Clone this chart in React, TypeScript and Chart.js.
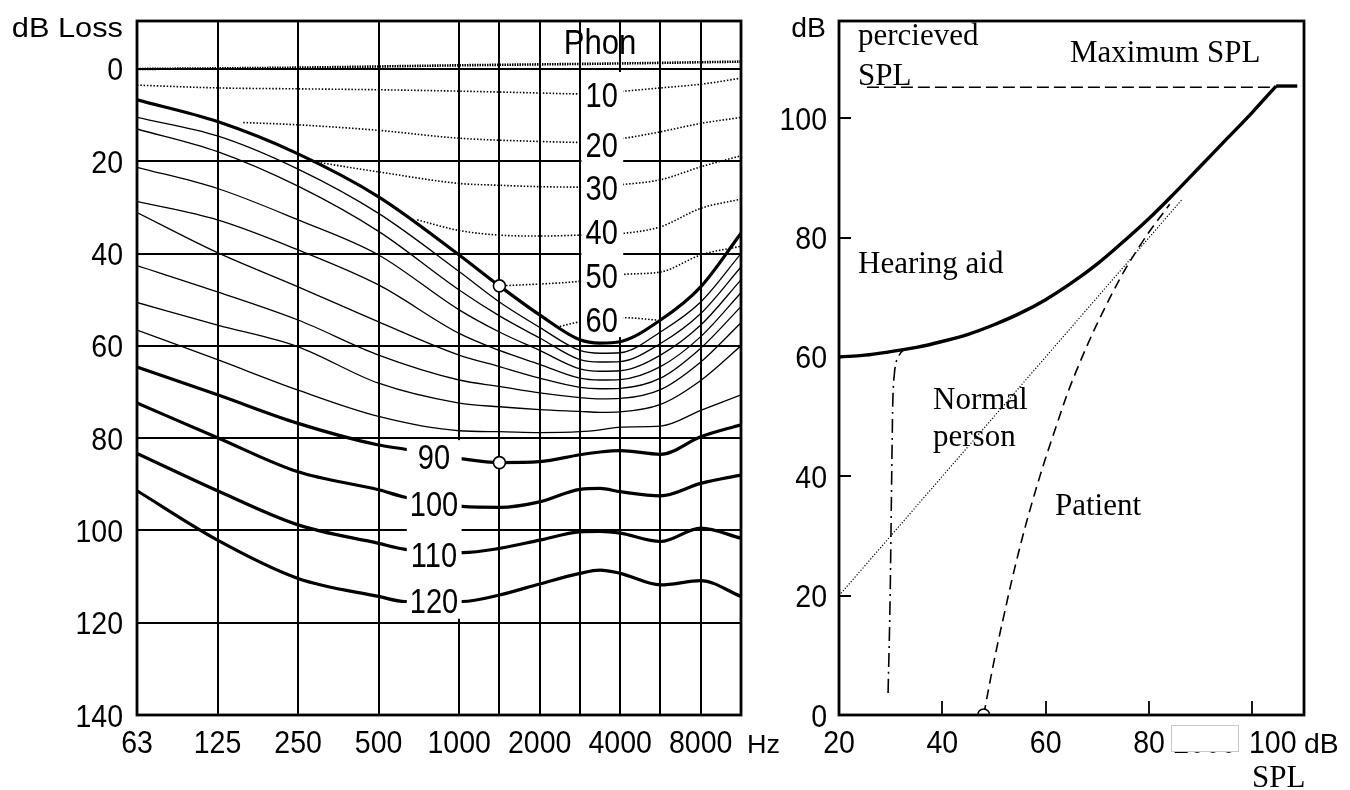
import React, { useEffect, useRef } from "react";
import { Chart, registerables } from "chart.js";
Chart.register(...registerables);

// ---------------- Left chart (equal loudness, dB loss vs frequency) ----------------
const FREQ_LABELS = ["63", "125", "250", "500", "1000", "2000", "4000", "8000"];
const FREQ_LABEL_POS = [0, 1, 2, 3, 4, 5, 6, 7]; // octaves above 63 Hz
const GRID_X = [1, 2, 3, 4, 4.5, 5, 5.5, 6, 6.5, 7];
const LOSS_TICKS = [0, 20, 40, 60, 80, 100, 120, 140];
const GRID_Y = [0, 20, 40, 60, 80, 100, 120];

const UPPER_X = [0, 1, 2, 3, 4, 4.5, 5, 5.5, 5.75, 6, 6.5, 7, 7.5];
const CURVE_60 = [6.7, 11.4, 18.4, 27.7, 40.3, 47.0, 53.3, 58.7, 59.4, 59.1, 54.4, 47.2, 35.6];
const THIN_1 = [10.5, 14.5, 21.7, 31.3, 43.9, 50.5, 56.0, 61.0, 61.6, 61.5, 57.0, 50.5, 40.0];
const THIN_2 = [13.0, 17.9, 25.4, 35.2, 47.9, 53.5, 58.3, 63.0, 63.5, 63.4, 59.5, 53.0, 42.9];
const THIN_3 = [21.3, 25.9, 32.7, 40.3, 52.2, 57.0, 61.0, 65.0, 65.5, 65.4, 62.0, 55.5, 45.7];
const THIN_4 = [28.7, 32.7, 39.2, 46.8, 57.3, 61.0, 64.0, 67.0, 67.4, 67.3, 64.5, 58.0, 48.5];
const THIN_5 = [31.1, 39.8, 47.2, 54.8, 62.0, 64.5, 67.0, 69.0, 69.3, 69.2, 67.0, 60.5, 51.5];
const THIN_6 = [42.6, 48.3, 54.4, 62.0, 67.4, 68.8, 70.2, 71.2, 71.5, 71.4, 69.5, 63.5, 55.0];
const THIN_7 = [50.6, 55.5, 60.2, 68.1, 72.4, 73.2, 73.8, 74.2, 74.4, 74.3, 72.7, 67.5, 60.0];
const THIN_8 = [56.6, 63.0, 69.6, 75.3, 78.4, 78.6, 78.8, 78.6, 78.2, 77.6, 77.4, 74.0, 70.6];

const LOWER_X = [0, 1, 2, 3, 3.33, 4.04, 4.5, 5, 5.5, 5.75, 6, 6.5, 7, 7.5];
const CURVE_90 = [64.6, 70.6, 76.8, 81.5, 82.4, 84.5, 85.3, 85.1, 83.6, 83.0, 82.7, 83.5, 79.7, 77.1];
const CURVE_100 = [72.4, 79.9, 87.3, 91.2, 92.8, 94.8, 95.0, 93.8, 91.1, 90.9, 91.6, 92.5, 89.8, 88.0];
const CURVE_110 = [83.3, 91.4, 98.8, 102.8, 104.1, 104.8, 103.9, 102.1, 100.3, 100.2, 100.6, 102.4, 99.5, 101.7];
const CURVE_120 = [91.4, 102.1, 110.4, 114.3, 115.4, 115.4, 114.0, 111.6, 109.3, 108.6, 109.3, 111.8, 110.9, 114.3];

const PHON0_X = [0, 2, 4, 6, 7.5];
const PHON0_Y = [0, -0.3, -0.8, -1.2, -1.6];
const PHON10_X = [0, 1, 2, 3, 4, 5, 5.5, 6.05, 6.5, 7, 7.5];
const PHON10_Y = [3.5, 4.1, 4.3, 4.5, 4.8, 5.2, 5.4, 4.8, 4.1, 3.3, 2.0];
const PHON20_X = [1.32, 2, 3, 4, 5, 5.5, 6.05, 6.5, 7, 7.5];
const PHON20_Y = [11.6, 12.1, 13.3, 15.0, 15.7, 15.9, 15.0, 13.6, 11.8, 10.5];
const PHON30_X = [2.2, 3, 4, 4.5, 5, 5.5, 6.05, 6.5, 7, 7.5];
const PHON30_Y = [20.1, 22.3, 24.8, 25.2, 25.5, 25.6, 25.0, 24.0, 21.2, 18.8];
const PHON40_X = [3.48, 4, 4.5, 5, 5.5, 6.05, 6.5, 7, 7.5];
const PHON40_Y = [32.7, 35.0, 36.0, 36.2, 36.0, 35.6, 34.2, 30.2, 28.2];
const PHON50_X = [4.5, 5, 5.5, 6.05, 6.5, 7, 7.5];
const PHON50_Y = [47.0, 46.6, 46.0, 44.5, 44.0, 40.3, 38.4];
const PHON60_X = [5.25, 5.5, 6.05, 6.45];
const PHON60_Y = [55.8, 54.8, 53.9, 54.4];

const PHON_LABELS = ["10", "20", "30", "40", "50", "60"];
const LOUD_LABELS = ["90", "100", "110", "120"];

const LEFT_MARK_X = [4.5, 4.5];
const LEFT_MARK_Y = [47.0, 85.3];

// ---------------- Right chart (perceived SPL vs SPL) ----------------
const SPL_TICKS_X = [20, 40, 60, 80, 100];
const SPL_TICKS_Y = [0, 20, 40, 60, 80, 100];

const AID_X = [20, 25, 30, 35, 40, 45, 50, 55, 60, 65, 70, 75, 80, 85, 90, 95, 100, 104.6];
const AID_Y = [60, 60.3, 60.9, 61.6, 62.6, 63.8, 65.4, 67.3, 69.6, 72.4, 75.6, 79.3, 83.2, 87.5, 92.0, 96.5, 101.0, 105.4];
const AID_CAP_X = [104.6, 108.7];
const AID_CAP_Y = [105.4, 105.4];
const MAXSPL_X = [25.4, 104.6];
const MAXSPL_Y = [105.2, 105.2];
const NORMAL_X = [20, 86.5];
const NORMAL_Y = [20, 86.5];
const PATIENT_X = [48, 50, 52, 54.4, 57.5, 61.5, 66, 72.9, 78.5, 84];
const PATIENT_Y = [0, 9, 17, 26, 36, 47, 57.8, 70.7, 79, 85.6];
const RECRUIT_X = [29.5, 29.9, 30.2, 30.4, 30.7, 31.5, 32.8];
const RECRUIT_Y = [3.7, 20, 40, 52, 57, 60, 61.4];
const RIGHT_MARK_X = [48];
const RIGHT_MARK_Y = [0];

// ---------------- helpers ----------------
const SANS = '"Liberation Sans", Arial, Helvetica, sans-serif';
const SERIF = '"Liberation Serif", "Times New Roman", Times, serif';
const LEFT_W = 785;
const RIGHT_LEFT = 745;
const RIGHT_W = 1350 - RIGHT_LEFT;

const pts = (xs: number[], ys: number[]) => xs.map((x, i) => ({ x, y: ys[i] }));

type Mode = "mono" | "spline" | "straight";

function ds(xs: number[], ys: number[], width: number, dash: number[] = [], mode: Mode = "mono") {
  return {
    type: "line" as const,
    data: pts(xs, ys),
    borderColor: "#000",
    borderWidth: width,
    borderDash: dash,
    borderCapStyle: "butt" as const,
    borderJoinStyle: "round" as const,
    pointRadius: 0,
    fill: false,
    cubicInterpolationMode: mode === "mono" ? ("monotone" as const) : ("default" as const),
    tension: mode === "straight" ? 0 : 0.4,
  };
}

function markers(xs: number[], ys: number[]) {
  return {
    type: "line" as const,
    data: pts(xs, ys),
    showLine: false,
    pointRadius: 6,
    pointBackgroundColor: "#fff",
    pointBorderColor: "#000",
    pointBorderWidth: 1.6,
    borderColor: "#000",
  };
}

function text(
  ctx: CanvasRenderingContext2D,
  s: string,
  x: number,
  y: number,
  size: number,
  opts: { family?: string; sx?: number; align?: "left" | "center" | "right"; color?: string } = {}
) {
  ctx.save();
  ctx.font = `${size}px ${opts.family ?? SANS}`;
  ctx.fillStyle = opts.color ?? "#000";
  ctx.textBaseline = "alphabetic";
  ctx.textAlign = "left";
  const sx = opts.sx ?? 1;
  const w = ctx.measureText(s).width * sx;
  let left = x;
  if (opts.align === "center") left = x - w / 2;
  else if (opts.align === "right") left = x - w;
  ctx.translate(left, y);
  ctx.scale(sx, 1);
  ctx.fillText(s, 0, 0);
  ctx.restore();
}

const DIG = { size: 31, sx: 0.92 };
const LBL = { size: 35, sx: 0.83 };

// ---------------- plugins ----------------
const leftPlugin = {
  id: "leftDecor",
  beforeDatasetsDraw(chart: any) {
    const { ctx, chartArea: a, scales } = chart;
    const xs = scales.x;
    const ys = scales.y;
    ctx.save();
    ctx.strokeStyle = "#000";
    ctx.lineWidth = 2;
    ctx.beginPath();
    for (const g of GRID_X) {
      const p = Math.round(xs.getPixelForValue(g));
      ctx.moveTo(p, a.top);
      ctx.lineTo(p, a.bottom);
    }
    for (const g of GRID_Y) {
      const p = Math.round(ys.getPixelForValue(g));
      ctx.moveTo(a.left, p);
      ctx.lineTo(a.right, p);
    }
    ctx.stroke();
    ctx.restore();
  },
  afterDatasetsDraw(chart: any) {
    const { ctx, chartArea: a, scales } = chart;
    const xs = scales.x;
    const ys = scales.y;
    const X = (v: number) => xs.getPixelForValue(v);
    const Y = (v: number) => ys.getPixelForValue(v);
    ctx.save();
    // white label boxes
    ctx.fillStyle = "#fff";
    const bxA0 = X(5.5) + 1.5;
    const bxA1 = X(6) + 3;
    ctx.fillRect(bxA0, Y(0) + 3, bxA1 - bxA0, Y(58.1) - Y(0) - 3);
    const bxB0 = X(3.35);
    const bxB1 = X(4) + 2.5;
    ctx.fillRect(bxB0, Y(80) + 2, bxB1 - bxB0, Y(120) - 4 - Y(80) - 2);
    // phon labels
    const phonBase = [107, 156.5, 200, 243.5, 288, 331.5];
    PHON_LABELS.forEach((s, i) => text(ctx, s, X(5.77), phonBase[i], LBL.size, { sx: LBL.sx, align: "center" }));
    text(ctx, "Phon", X(5.75), 54, 35, { sx: 0.89, align: "center" });
    const loudBase = [469, 516, 566.5, 613];
    LOUD_LABELS.forEach((s, i) => text(ctx, s, 434, loudBase[i], LBL.size, { sx: LBL.sx, align: "center" }));
    // frame
    ctx.strokeStyle = "#000";
    ctx.lineWidth = 2.8;
    ctx.strokeRect(a.left, a.top, a.right - a.left, a.bottom - a.top);
    // axis labels
    LOSS_TICKS.forEach((v) => text(ctx, String(v), 123, Y(v) + 11.5, DIG.size, { sx: DIG.sx, align: "right" }));
    FREQ_LABELS.forEach((s, i) => text(ctx, s, X(FREQ_LABEL_POS[i]), 753, DIG.size, { sx: DIG.sx, align: "center" }));
    text(ctx, "Hz", 747, 753, 25, { sx: 1.08 });
    text(ctx, "dB Loss", 123, 37, 27, { sx: 1.14, align: "right" });
    ctx.restore();
  },
};

const rightPlugin = {
  id: "rightDecor",
  afterDatasetsDraw(chart: any) {
    const { ctx, chartArea: a, scales } = chart;
    const X = (v: number) => scales.x.getPixelForValue(v);
    const Y = (v: number) => scales.y.getPixelForValue(v);
    ctx.save();
    ctx.strokeStyle = "#000";
    ctx.lineWidth = 1.8;
    ctx.beginPath();
    for (const v of SPL_TICKS_X.slice(1)) {
      const p = Math.round(X(v));
      ctx.moveTo(p, a.bottom);
      ctx.lineTo(p, a.bottom - 14);
    }
    for (const v of SPL_TICKS_Y.slice(1)) {
      const p = Math.round(Y(v));
      ctx.moveTo(a.left, p);
      ctx.lineTo(a.left + 12, p);
    }
    ctx.stroke();
    ctx.lineWidth = 2.8;
    ctx.strokeRect(a.left, a.top, a.right - a.left, a.bottom - a.top);
    // tick labels (page coordinates)
    ctx.translate(-RIGHT_LEFT, 0);
    const off = RIGHT_LEFT;
    SPL_TICKS_Y.forEach((v) => text(ctx, String(v), 827, Y(v) + 11.5, DIG.size, { sx: DIG.sx, align: "right" }));
    SPL_TICKS_X.slice(0, 4).forEach((v) => text(ctx, String(v), X(v) + off, 753, DIG.size, { sx: DIG.sx, align: "center" }));
    text(ctx, String(SPL_TICKS_X[4]), 1249, 753, DIG.size, { sx: DIG.sx });
    text(ctx, "dB", 1304, 753, 27, { sx: 1.05 });
    text(ctx, "dB", 826, 37, 27, { sx: 1.05, align: "right" });
    // covered label artefact
    text(ctx, "2000", 1205, 753, DIG.size, { sx: DIG.sx, align: "center" });
    ctx.fillStyle = "#fff";
    ctx.fillRect(1171, 725, 68, 27);
    ctx.strokeStyle = "#c8c8c8";
    ctx.lineWidth = 1;
    ctx.strokeRect(1171.5, 725.5, 67, 26);
    // annotations
    const F = 31;
    text(ctx, "percieved", 858, 45, F, { family: SERIF });
    text(ctx, "SPL", 858, 85, F, { family: SERIF });
    text(ctx, "Maximum SPL", 1070, 62, F, { family: SERIF });
    text(ctx, "Hearing aid", 858, 273, F, { family: SERIF });
    text(ctx, "Normal", 933, 409, F, { family: SERIF });
    text(ctx, "person", 933, 446, F, { family: SERIF });
    text(ctx, "Patient", 1055, 515, F, { family: SERIF });
    text(ctx, "SPL", 1252, 787, F, { family: SERIF });
    ctx.restore();
  },
};

export default function App() {
  const leftRef = useRef<HTMLCanvasElement>(null);
  const rightRef = useRef<HTMLCanvasElement>(null);

  useEffect(() => {
    const left = new Chart(leftRef.current as HTMLCanvasElement, {
      type: "line",
      data: {
        datasets: [
          markers(LEFT_MARK_X, LEFT_MARK_Y),
          ds(PHON0_X, PHON0_Y, 2.6, [1.5, 1]),
          ds(PHON10_X, PHON10_Y, 1.6, [1.5, 1.8]),
          ds(PHON20_X, PHON20_Y, 1.6, [1.5, 1.8]),
          ds(PHON30_X, PHON30_Y, 1.6, [1.5, 1.8]),
          ds(PHON40_X, PHON40_Y, 1.6, [1.5, 1.8]),
          ds(PHON50_X, PHON50_Y, 1.6, [1.5, 1.8]),
          ds(PHON60_X, PHON60_Y, 1.6, [1.5, 1.8]),
          ds(UPPER_X, CURVE_60, 3.2),
          ds(UPPER_X, THIN_1, 1.3),
          ds(UPPER_X, THIN_2, 1.3),
          ds(UPPER_X, THIN_3, 1.3),
          ds(UPPER_X, THIN_4, 1.3),
          ds(UPPER_X, THIN_5, 1.3),
          ds(UPPER_X, THIN_6, 1.3),
          ds(UPPER_X, THIN_7, 1.3),
          ds(UPPER_X, THIN_8, 1.3),
          ds(LOWER_X, CURVE_90, 3.2),
          ds(LOWER_X, CURVE_100, 3.2),
          ds(LOWER_X, CURVE_110, 3.2),
          ds(LOWER_X, CURVE_120, 3.2),
        ] as any,
      },
      options: {
        responsive: false,
        animation: false,
        devicePixelRatio: 1,
        layout: { padding: { left: 137, top: 21, right: LEFT_W - 741, bottom: 75 } },
        plugins: { legend: { display: false }, tooltip: { enabled: false } },
        scales: {
          x: { type: "linear", min: 0, max: 7.5, display: false },
          y: { type: "linear", min: -10.4, max: 140, reverse: true, display: false },
        },
      },
      plugins: [leftPlugin],
    } as any);

    const right = new Chart(rightRef.current as HTMLCanvasElement, {
      type: "line",
      data: {
        datasets: [
          markers(RIGHT_MARK_X, RIGHT_MARK_Y),
          ds(AID_X, AID_Y, 3.4, [], "spline"),
          ds(AID_CAP_X, AID_CAP_Y, 3.4, [], "straight"),
          ds(MAXSPL_X, MAXSPL_Y, 1.6, [12, 5], "straight"),
          ds(NORMAL_X, NORMAL_Y, 1.2, [1.2, 1.8], "straight"),
          ds(PATIENT_X, PATIENT_Y, 1.6, [10, 6], "spline"),
          ds(RECRUIT_X, RECRUIT_Y, 1.6, [14, 5, 2, 5]),
        ] as any,
      },
      options: {
        responsive: false,
        animation: false,
        devicePixelRatio: 1,
        layout: { padding: { left: 839 - RIGHT_LEFT, top: 21, right: RIGHT_LEFT + RIGHT_W - 1304, bottom: 75 } },
        plugins: { legend: { display: false }, tooltip: { enabled: false } },
        scales: {
          x: { type: "linear", min: 20, max: 110, display: false },
          y: { type: "linear", min: 0, max: 116.3, display: false },
        },
      },
      plugins: [rightPlugin],
    } as any);

    return () => {
      left.destroy();
      right.destroy();
    };
  }, []);

  return (
    <div style={{ position: "absolute", left: 0, top: 0, width: 1350, height: 790, background: "#fff" }}>
      <canvas
        ref={leftRef}
        width={LEFT_W}
        height={790}
        style={{ position: "absolute", left: 0, top: 0, width: LEFT_W, height: 790 }}
      />
      <canvas
        ref={rightRef}
        width={RIGHT_W}
        height={790}
        style={{ position: "absolute", left: RIGHT_LEFT, top: 0, width: RIGHT_W, height: 790 }}
      />
    </div>
  );
}
